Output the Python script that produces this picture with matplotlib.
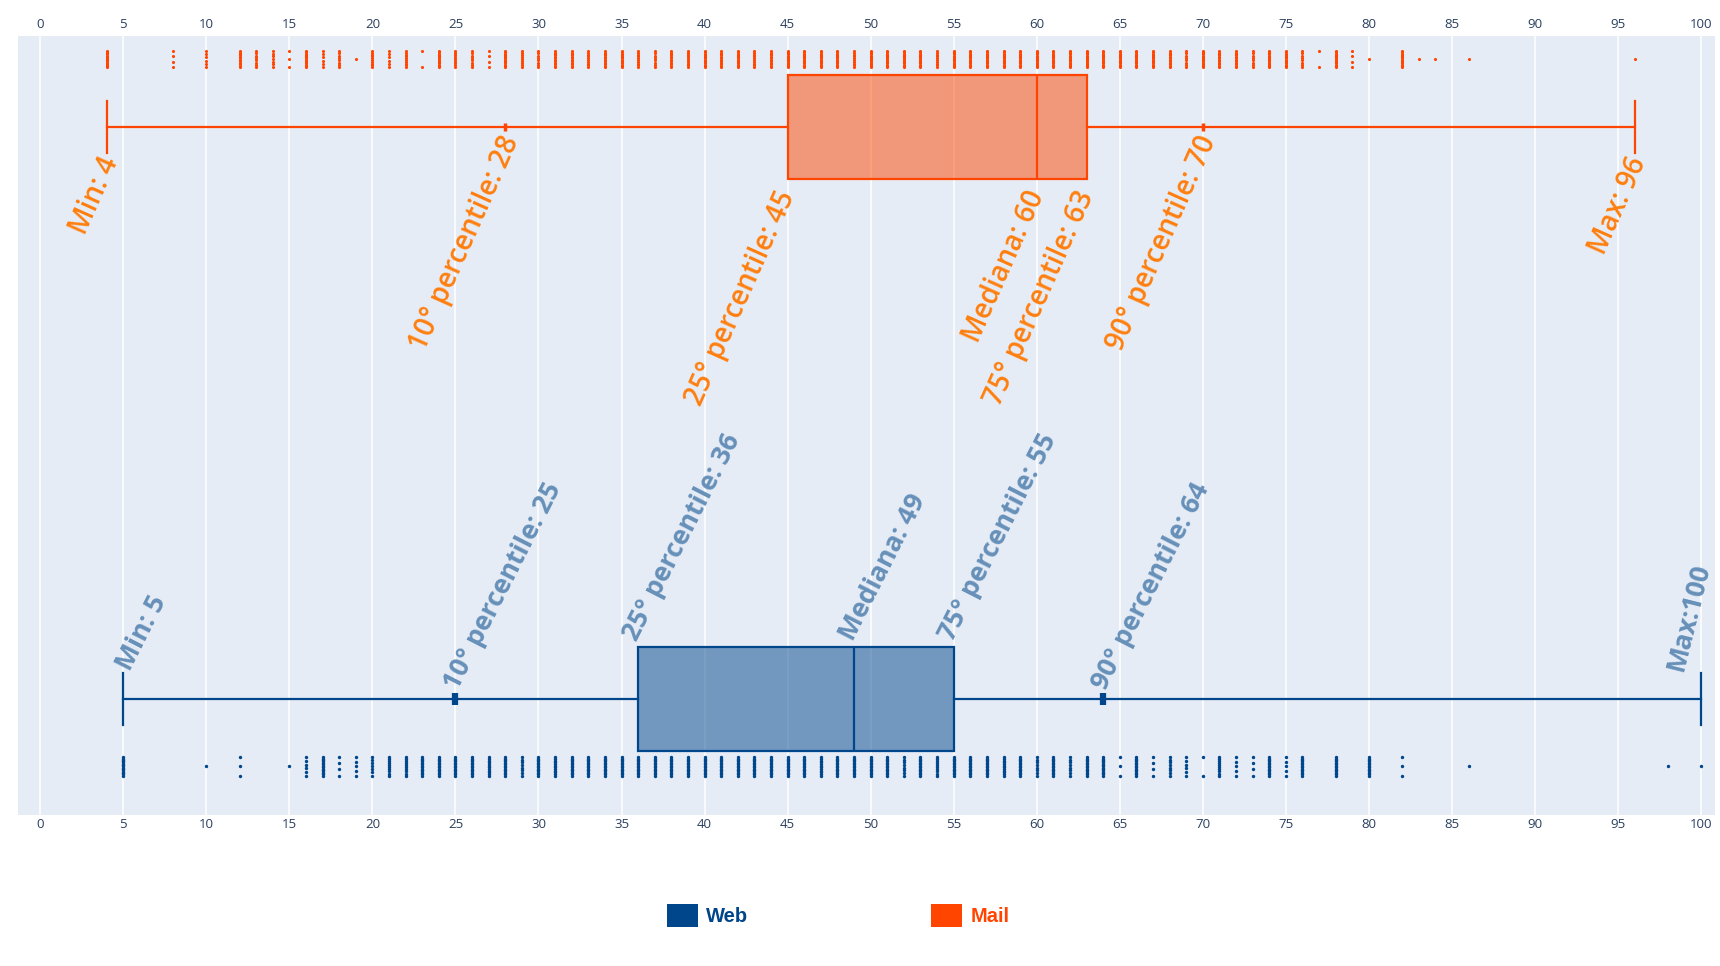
import numpy as np
import matplotlib.pyplot as plt
from matplotlib.patches import Patch
from matplotlib.colors import to_rgba

# Summary stats per group: min, p10, q1, median, q3, p90, max
web_stats = [5, 25, 36, 49, 55, 64, 100]
mail_stats = [4, 28, 45, 60, 63, 70, 96]

web_labels = ['Min: 5', '10° percentile: 25', '25° percentile: 36', 'Mediana: 49',
              '75° percentile: 55', '90° percentile: 64', 'Max:100']
mail_labels = ['Min: 4', '10° percentile: 28', '25° percentile: 45', 'Mediana: 60',
               '75° percentile: 63', '90° percentile: 70', 'Max: 96']

# Observed scores (value -> number of observations), read from the point strips
mail_values = [4, 8, 10, 12, 13, 14, 15, 16, 17, 18, 19, 20, 21, 22, 23, 24, 25, 26, 27, 28,
               29, 30, 31, 32, 33, 34, 35, 36, 37, 38, 39, 40, 41, 42, 43, 44, 45, 46, 47, 48,
               49, 50, 51, 52, 53, 54, 55, 56, 57, 58, 59, 60, 61, 62, 63, 64, 65, 66, 67, 68,
               69, 70, 71, 72, 73, 74, 75, 76, 77, 78, 79, 80, 82, 83, 84, 86, 96]
mail_counts = [15, 4, 6, 12, 8, 7, 3, 14, 6, 8, 1, 10, 6, 10, 2, 14, 9, 8, 4, 14,
               9, 8, 12, 12, 10, 12, 14, 10, 8, 12, 10, 14, 12, 14, 10, 12, 15, 14, 14, 14,
               10, 15, 14, 14, 14, 10, 15, 14, 14, 14, 14, 15, 14, 15, 15, 14, 14, 14, 14, 12,
               8, 15, 12, 12, 8, 15, 14, 8, 2, 14, 4, 1, 14, 1, 1, 1, 1]

web_values = [5, 10, 12, 15, 16, 17, 18, 19, 20, 21, 22, 23, 24, 25, 26, 27, 28, 29, 30, 31,
              32, 33, 34, 35, 36, 37, 38, 39, 40, 41, 42, 43, 44, 45, 46, 47, 48, 49, 50, 51,
              52, 53, 54, 55, 56, 57, 58, 59, 60, 61, 62, 63, 64, 65, 66, 67, 68, 69, 70, 71,
              72, 73, 74, 75, 76, 78, 80, 82, 86, 98, 100]
web_counts = [15, 1, 3, 1, 6, 14, 4, 5, 7, 10, 10, 14, 14, 14, 14, 12, 14, 8, 14, 12,
              14, 14, 14, 14, 14, 14, 14, 14, 14, 14, 14, 14, 14, 14, 14, 12, 14, 14, 14, 14,
              8, 14, 10, 14, 14, 14, 12, 14, 8, 14, 8, 14, 15, 3, 14, 4, 8, 6, 2, 10,
              5, 4, 14, 5, 14, 14, 14, 3, 1, 1, 1]

web_color = '#00468b'
mail_color = '#ff4500'
web_text = '#6790b9'
mail_text = '#ff7f0e'

W, H = 1720, 966
fig = plt.figure(figsize=(W / 100, H / 100), dpi=100)
ax = fig.add_axes([17.5 / W, 1 - 815 / H, (1715 - 17.5) / W, (815 - 36.2) / H])
ax.set_facecolor('#e5ecf6')
for s in ax.spines.values():
    s.set_visible(False)

box_w = 0.183


def strip(values, counts, y, half):
    xs, ys = [], []
    for v, n in zip(values, counts):
        xs += [v] * n
        ys += list(np.linspace(y - half, y + half, n)) if n > 1 else [y]
    return xs, ys


def draw_group(stats, y, color):
    st = [dict(whislo=stats[0], q1=stats[2], med=stats[3], q3=stats[4], whishi=stats[6], fliers=[])]
    lp = dict(color=color, linewidth=1.6)
    ax.bxp(st, positions=[y], widths=box_w, capwidths=0.09, orientation='horizontal',
           patch_artist=True, showfliers=False, manage_ticks=False,
           boxprops=dict(facecolor=to_rgba(color, 0.5), edgecolor=color, linewidth=1.6),
           medianprops=lp, whiskerprops=lp, capprops=lp)


draw_group(mail_stats, 1, mail_color)
draw_group(web_stats, 0, web_color)

# 10th / 90th percentile marks on the whiskers
ax.plot([mail_stats[1], mail_stats[5]], [1, 1], ls='none', marker='|', ms=6, mew=2.5, color=mail_color)
ax.plot([web_stats[1], web_stats[5]], [0, 0], ls='none', marker='|', ms=9, mew=4.5, color=web_color,
        solid_capstyle='round')

# all points beside the boxes
xs, ys = strip(mail_values, mail_counts, 1 + 0.119, 0.014)
ax.scatter(xs, ys, s=5, color=mail_color, linewidths=0, zorder=3)
xs, ys = strip(web_values, web_counts, 0 - 0.118, 0.016)
ax.scatter(xs, ys, s=6, color=web_color, linewidths=0, zorder=3)

# annotations: mail below the box, web above
for i, (v, lab) in enumerate(zip(mail_stats, mail_labels)):
    if i in (0, 6):
        dx, dy = -9, -25
    elif i in (1, 5):
        dx, dy = -7, -4
    else:
        dx, dy = -13, -59
    ax.annotate(lab, xy=(v, 1), xytext=(dx, dy), textcoords='offset pixels',
                rotation=66, rotation_mode='anchor', ha='right', va='top',
                color=mail_text, fontsize=20, family='Open Sans', weight='semibold')

for i, (v, lab) in enumerate(zip(web_stats, web_labels)):
    rot = 63
    if i in (0, 6):
        dx, dy = 7, 27
        if i == 6:
            rot = 76
            dx = -18
    elif i in (1, 5):
        dx, dy = 2, 8
    else:
        dx, dy = -1, 57
    ax.annotate(lab, xy=(v, 0), xytext=(dx, dy), textcoords='offset pixels',
                rotation=rot, rotation_mode='anchor', ha='left', va='baseline',
                color=web_text, fontsize=19.2, family='Open Sans', weight='bold')

ax.set_xlim(-1.37, 100.84)
ax.set_ylim(-0.203, 1.159)
ticks = list(range(0, 101, 5))
ax.set_xticks(ticks)
ax.set_yticks([])
ax.grid(axis='x', color='white', linewidth=1.1)
ax.set_axisbelow(True)
ax.tick_params(axis='x', length=0, pad=2.5, labelsize=9.5, labelcolor='#2a3f5f')
for t in ax.get_xticklabels():
    t.set_family('Open Sans')

top = ax.secondary_xaxis('top')
top.set_xticks(ticks)
top.tick_params(axis='x', length=0, pad=4, labelsize=9.5, labelcolor='#2a3f5f')
for t in top.get_xticklabels():
    t.set_family('Open Sans')
top.spines['top'].set_visible(False)

handles = [Patch(facecolor=web_color, edgecolor='none'), Patch(facecolor=mail_color, edgecolor='none')]
leg = fig.legend(handles, ['Web', 'Mail'], loc='center', bbox_to_anchor=(838 / W, 1 - 915.5 / H),
                 ncol=2, frameon=False, prop=dict(family='Liberation Sans', weight='bold', size=14.5),
                 handlelength=1.55, handleheight=1.45, handletextpad=0.4, columnspacing=9.1)
for t, c in zip(leg.get_texts(), [web_color, mail_color]):
    t.set_color(c)

fig.savefig('out.png', dpi=100)
